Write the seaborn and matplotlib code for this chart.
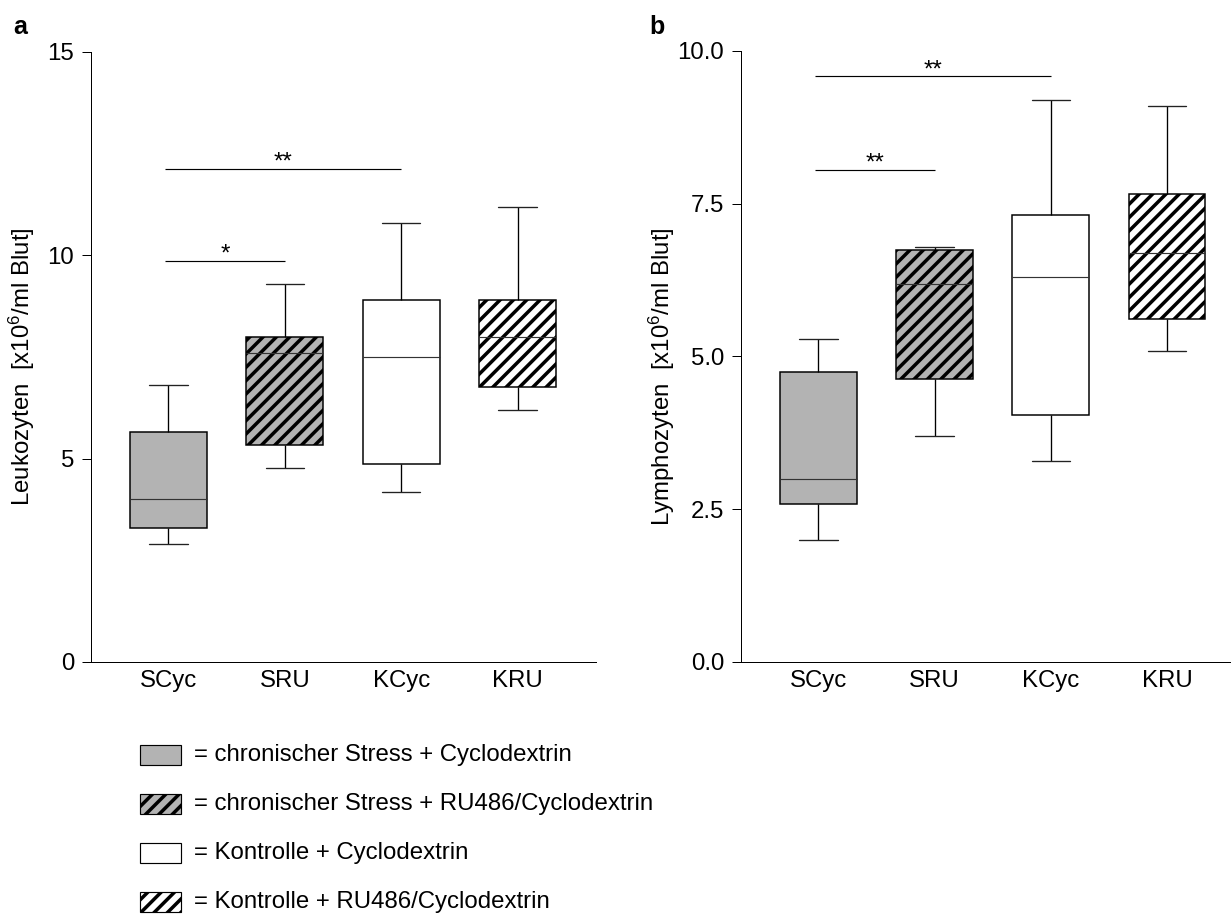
import numpy as np
import pandas as pd
import matplotlib
matplotlib.use("Agg")
import matplotlib.pyplot as plt
import seaborn as sns
from matplotlib.patches import Rectangle

# ---------------- data ----------------
groups = ["SCyc", "SRU", "KCyc", "KRU"]

# Panel a: Leukozyten - five-number summaries (min, Q1, median, Q3, max)
leuko_min = [2.90, 4.78, 4.17, 6.19]
leuko_q1 = [3.30, 5.34, 4.86, 6.76]
leuko_med = [4.01, 7.59, 7.49, 7.98]
leuko_q3 = [5.65, 7.98, 8.91, 8.91]
leuko_max = [6.80, 9.29, 10.79, 11.18]

# Panel b: Lymphozyten
lympho_min = [1.99, 3.70, 3.29, 5.08]
lympho_q1 = [2.59, 4.63, 4.04, 5.61]
lympho_med = [2.99, 6.19, 6.30, 6.69]
lympho_q3 = [4.74, 6.74, 7.31, 7.65]
lympho_max = [5.29, 6.79, 9.19, 9.10]

# significance brackets: (from, to, height, label)
leuko_sig = [("SCyc", "SRU", 9.86, "*"), ("SCyc", "KCyc", 12.13, "**")]
lympho_sig = [("SCyc", "SRU", 8.05, "**"), ("SCyc", "KCyc", 9.58, "**")]

leuko_yticks = [0, 5, 10, 15]
leuko_yticklabels = ["0", "5", "10", "15"]
lympho_yticks = [0.0, 2.5, 5.0, 7.5, 10.0]
lympho_yticklabels = ["0.0", "2.5", "5.0", "7.5", "10.0"]

face_colors = ["#b3b3b3", "#b3b3b3", "#ffffff", "#ffffff"]
hatches = ["", "///", "", "///"]
legend_labels = [
    "= chronischer Stress + Cyclodextrin",
    "= chronischer Stress + RU486/Cyclodextrin",
    "= Kontrolle + Cyclodextrin",
    "= Kontrolle + RU486/Cyclodextrin",
]

# ---------------- style ----------------
sns.set_style("ticks")
plt.rcParams["font.family"] = ["Liberation Sans", "DejaVu Sans"]
plt.rcParams["mathtext.default"] = "regular"
plt.rcParams["hatch.linewidth"] = 2.1
plt.rcParams["hatch.color"] = "black"
plt.rcParams["axes.edgecolor"] = "black"
plt.rcParams["xtick.color"] = "black"
plt.rcParams["ytick.color"] = "black"
plt.rcParams["text.color"] = "black"
plt.rcParams["axes.labelcolor"] = "black"

FS = 14.4
DPI = 120
W, H = 1231, 917
fig = plt.figure(figsize=(W / DPI, H / DPI), dpi=DPI)

ax_a = fig.add_axes([90.5 / W, 1 - 662 / H, 505 / W, 610 / H])
ax_b = fig.add_axes([740.5 / W, 1 - 662 / H, (W - 740.5) / W, 611.3 / H])


def make_df(mins, q1s, meds, q3s, maxs):
    rows = []
    for g, a, b, c, d, e in zip(groups, mins, q1s, meds, q3s, maxs):
        for v in (a, b, c, d, e):
            rows.append({"group": g, "value": v})
    return pd.DataFrame(rows)


def draw_panel(ax, df, sig, yticks, yticklabels, ylim, xlim, ylabel, label_xy):
    sns.boxplot(
        data=df, x="group", y="value", hue="group", order=groups, hue_order=groups,
        palette=dict(zip(groups, face_colors)), saturation=1, width=0.66,
        whis=np.inf, linecolor="black", linewidth=0.9, legend=False, ax=ax,
        boxprops=dict(linewidth=0.9, edgecolor="black"),
        whiskerprops=dict(linewidth=0.8, color="black"),
        capprops=dict(linewidth=0.8, color="#222222"),
        medianprops=dict(linewidth=0.7, color="#333333"),
    )
    for patch, h in zip(ax.patches, hatches):
        patch.set_hatch(h)
        patch.set_edgecolor("black")

    pos = {g: i for i, g in enumerate(groups)}
    for g1, g2, yv, lab in sig:
        x1, x2 = pos[g1] - 0.03, pos[g2]
        ax.plot([x1, x2], [yv, yv], color="black", lw=0.7, solid_capstyle="butt")
        ax.text((x1 + x2) / 2, yv, lab, ha="center", va="baseline", fontsize=FS)

    ax.set_ylim(*ylim)
    ax.set_xlim(*xlim)
    ax.set_yticks(yticks)
    ax.set_yticklabels(yticklabels)
    ax.set_xlabel("")
    ax.set_ylabel(ylabel, fontsize=FS)
    ax.yaxis.set_label_coords(*label_xy)
    ax.tick_params(axis="y", length=5.4, width=0.6, pad=4.5, labelsize=FS)
    ax.tick_params(axis="x", length=0, pad=4.8, labelsize=FS)
    sns.despine(ax=ax)
    for s in ("left", "bottom"):
        ax.spines[s].set_linewidth(0.6)
        ax.spines[s].set_color("black")


draw_panel(ax_a, make_df(leuko_min, leuko_q1, leuko_med, leuko_q3, leuko_max),
           leuko_sig, leuko_yticks, leuko_yticklabels, (0, 15), (-0.67, 3.67),
           "Leukozyten  [x10$^{6}$/ml Blut]", (-0.106, 0.484))
draw_panel(ax_b, make_df(lympho_min, lympho_q1, lympho_med, lympho_q3, lympho_max),
           lympho_sig, lympho_yticks, lympho_yticklabels, (0, 10), (-0.67, 3.55),
           "Lymphozyten  [x10$^{6}$/ml Blut]", (-0.129, 0.466))

# panel letters
fig.text(13 / W, 1 - 34 / H, "a", fontsize=15, fontweight="bold", va="baseline")
fig.text(649 / W, 1 - 34 / H, "b", fontsize=15, fontweight="bold", va="baseline")

# legend
row_y = [755, 804, 853, 902]
for yc, lab, fc, h in zip(row_y, legend_labels, face_colors, hatches):
    r = Rectangle((140 / W, 1 - (yc + 10) / H), 41 / W, 20 / H, transform=fig.transFigure,
                  facecolor=fc, edgecolor="black", linewidth=0.7, hatch=h)
    fig.add_artist(r)
    fig.text(194 / W, 1 - yc / H, lab, fontsize=FS, va="center", ha="left")

fig.savefig("out.png", dpi=DPI)
